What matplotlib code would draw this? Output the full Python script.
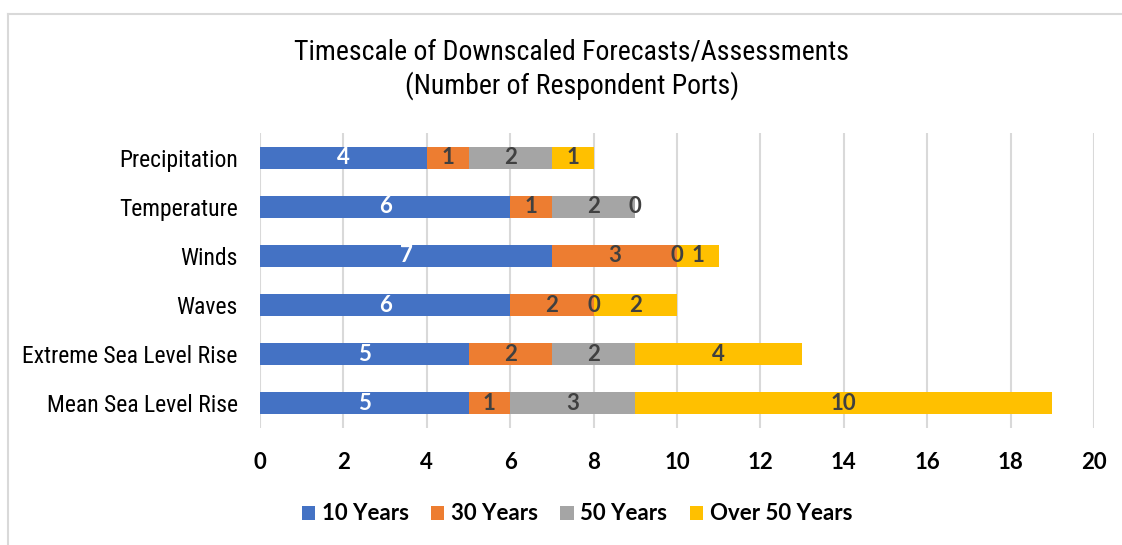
import matplotlib.pyplot as plt
from matplotlib import font_manager
from matplotlib.lines import Line2D
import numpy as np

categories = ['Mean Sea Level Rise', 'Extreme Sea Level Rise', 'Waves', 'Winds',
              'Temperature', 'Precipitation']
series_names = ['10 Years', '30 Years', '50 Years', 'Over 50 Years']
ten_years = [5, 5, 6, 7, 6, 4]
thirty_years = [1, 2, 2, 3, 1, 1]
fifty_years = [3, 2, 0, 0, 2, 2]
over_fifty = [10, 4, 2, 1, 0, 1]
colors = ['#4472C4', '#ED7D31', '#A5A5A5', '#FFC000']
label_colors = ['white', '#404040', '#404040', '#404040']

# look for a narrow face, otherwise shrink Liberation Sans
names = {f.name for f in font_manager.fontManager.ttflist}
narrow_name = None
for cand in ['Liberation Sans Narrow', 'DejaVu Sans Condensed', 'Roboto Condensed',
             'Open Sans Condensed', 'Noto Sans Condensed']:
    if cand in names:
        narrow_name = cand
        break
if narrow_name:
    narrow = [narrow_name, 'DejaVu Sans']
    cat_size, title_size = 17, 20
else:
    narrow = ['Liberation Sans', 'DejaVu Sans']
    cat_size, title_size = 14.5, 18
bold_font = ['Lato', 'DejaVu Sans']

fig = plt.figure(figsize=(11.22, 5.45), dpi=100)
ax = fig.add_axes([260 / 1122, 1 - 428 / 545, 834 / 1122, 295 / 545])

y = np.arange(len(categories))
left = np.zeros(len(categories))
for vals, name, c, lc in zip([ten_years, thirty_years, fifty_years, over_fifty],
                             series_names, colors, label_colors):
    bars = ax.barh(y, vals, left=left, height=0.45, color=c, label=name, zorder=3)
    txts = ax.bar_label(bars, labels=[str(v) for v in vals], label_type='center',
                        color=lc, fontsize=16, fontweight='bold', family=bold_font)
    for t in txts:
        t.set_zorder(6)
    left += np.array(vals)

ax.set_xlim(0, 20)
ax.set_ylim(-0.5, 5.5)
ax.set_xticks(range(0, 21, 2))
ax.set_yticks(y)
ax.set_yticklabels(categories, family=narrow, fontsize=cat_size)
for lab in ax.get_xticklabels():
    lab.set_family(bold_font)
    lab.set_fontweight('bold')
    lab.set_fontsize(16)
ax.tick_params(axis='x', length=0, pad=17, colors='black')
ax.tick_params(axis='y', length=0, pad=16)
ax.grid(axis='x', color='#D9D9D9', linewidth=1.5, zorder=0)
for s in ax.spines.values():
    s.set_visible(False)

fig.text(572 / 1122, 1 - 52 / 545, 'Timescale of Downscaled Forecasts/Assessments',
         ha='center', va='center', fontsize=title_size, family=narrow)
fig.text(572 / 1122, 1 - 86 / 545, '(Number of Respondent Ports)',
         ha='center', va='center', fontsize=title_size, family=narrow)

leg = fig.legend(loc='center', bbox_to_anchor=(577 / 1122, 1 - 514 / 545), ncol=4,
                 frameon=False, handlelength=0.6, handleheight=0.6, handletextpad=0.3,
                 columnspacing=1.0, prop={'family': bold_font, 'weight': 'bold', 'size': 16})

# chart frame (left and top edges visible)
fig.add_artist(Line2D([8 / 1122, 8 / 1122], [0, 1 - 14 / 545], color='#D9D9D9', linewidth=1.5))
fig.add_artist(Line2D([8 / 1122, 1], [1 - 14 / 545, 1 - 14 / 545], color='#D9D9D9', linewidth=1.5))

fig.savefig('out.png', dpi=100)
